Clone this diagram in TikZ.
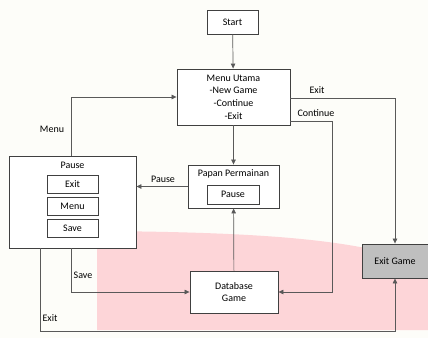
\documentclass[tikz,border=0pt]{standalone}
\usepackage{fontspec}
\setmainfont{Carlito}
\usetikzlibrary{positioning,arrows.meta}
\definecolor{pinkBg}{RGB}{253,213,216}
\definecolor{paperBg}{RGB}{253,253,249}
\newcommand{\flowFont}[0]{\fontsize{10}{12.6}\selectfont}

\begin{document}
\begin{tikzpicture}[x=1pt, y=-1pt]
  \tikzset{box/.style={draw=black!75, line width=0.9pt, fill=white, align=center, font=\flowFont, inner sep=0pt},
    flow/.style={draw=black!65, line width=0.7pt, -{Triangle[length=5pt,width=4.5pt]}},
    lbl/.style={font=\flowFont, inner sep=1pt}}
  % background and pink area
  \fill[paperBg] (0,0) rectangle (428,338);
  \fill[pinkBg] (97,330) -- (97,235) to[out=90,in=180] (101,231)
    .. controls (220,232) and (300,236) .. (360,247) -- (428,252) -- (428,330) -- cycle;
  \useasboundingbox (0,0) rectangle (428,338);

  % boxes
  \node[box, minimum width=51pt, minimum height=24pt] (start) at (232.5,22) {Start};
  \node[box, minimum width=113pt, minimum height=56pt] (menu) at (233.5,97)
    {Menu Utama\\-New Game\\-Continue\\-Exit};
  \node[box, minimum width=91pt, minimum height=43pt] (papan) at (233.5,186.5) {};
  \node[lbl] (papanTitle) at (233.5,174) {Papan Permainan};
  \node[box, minimum width=52pt, minimum height=19pt] (papanPause) at (233,194.5) {Pause};
  \node[box, minimum width=127pt, minimum height=92pt] (pause) at (72.5,202) {};
  \node[lbl] (pauseTitle) at (72.5,165) {Pause};
  \node[box, minimum width=51pt, minimum height=18pt] (pauseExit) at (72.5,184) {Exit};
  \node[box, minimum width=51pt, minimum height=18pt] (pauseMenu) at (72.5,206.5) {Menu};
  \node[box, minimum width=51pt, minimum height=18pt] (pauseSave) at (72.5,228.5) {Save};
  \node[box, minimum width=88pt, minimum height=42pt] (database) at (234,292) {Database\\Game};
  \node[box, fill=black!25, minimum width=66pt, minimum height=34pt] (exitGame) at (395,261) {Exit Game};

  % connectors
  \draw[flow] (start) -- (menu);
  \draw[flow] (menu) -- (papan);
  \draw[flow] (database) -- (papan);
  \draw[flow] (papan.west) -- (papan.west -| pause.east);
  \draw[flow] ([xshift=-1.5pt]pause.north) |- (menu.west);
  \draw[flow] ([xshift=-1.5pt]pause.south) |- (database.west);
  \draw[flow] ([xshift=-32.5pt]pause.south) -- ([xshift=-32.5pt]pause.south |- 0,331) -| (exitGame.south);
  \draw[flow] ([yshift=-1pt]menu.east) -| (exitGame.north);
  \draw[flow] ([yshift=-24pt]menu.east) -- ++(42,0) |- (database.east);

  % labels
  \node[lbl] (lblExitTop) at (317,90) {Exit};
  \node[lbl] (lblContinue) at (316,113) {Continue};
  \node[lbl] (lblPause) at (163,179) {Pause};
  \node[lbl] (lblMenu) at (52,129) {Menu};
  \node[lbl] (lblSave) at (83,275) {Save};
  \node[lbl] (lblExitBottom) at (50,318) {Exit};
\end{tikzpicture}
\end{document}
